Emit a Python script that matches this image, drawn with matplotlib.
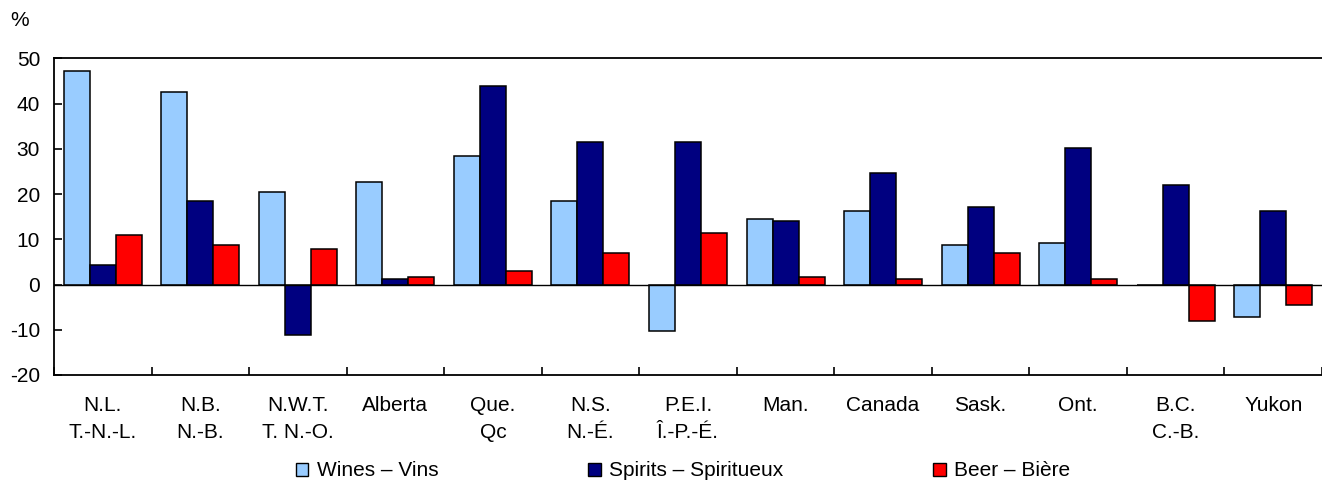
import matplotlib
matplotlib.use("Agg")
import matplotlib.pyplot as plt
import numpy as np
from matplotlib.patches import Patch

plt.rcParams['font.family'] = ['Liberation Sans', 'DejaVu Sans']

categories = ["N.L.\nT.-N.-L.", "N.B.\nN.-B.", "N.W.T.\nT. N.-O.", "Alberta", "Que.\nQc",
              "N.S.\nN.-É.", "P.E.I.\nÎ.-P.-É.", "Man.", "Canada", "Sask.", "Ont.",
              "B.C.\nC.-B.", "Yukon"]
wines = [47.3, 42.6, 20.5, 22.7, 28.5, 18.4, -10.2, 14.4, 16.2, 8.7, 9.2, 0.0, -7.2]
spirits = [4.3, 18.4, -11.1, 1.3, 43.9, 31.6, 31.6, 14.1, 24.6, 17.1, 30.2, 21.9, 16.2]
beer = [10.9, 8.7, 7.8, 1.7, 3.0, 6.9, 11.4, 1.7, 1.2, 6.9, 1.2, -8.1, -4.6]
series_names = ["Wines – Vins", "Spirits – Spiritueux", "Beer – Bière"]
colors = ["#99CCFF", "#000080", "#FF0000"]
yticks = [-20, -10, 0, 10, 20, 30, 40, 50]

fig = plt.figure(figsize=(13.22, 4.83), dpi=100)
ax = fig.add_axes([54/1322, 1-375/483, 1-54/1322, (375-58.3)/483])

x = np.arange(len(categories))
w = 0.8/3
for i, (vals, c) in enumerate(zip([wines, spirits, beer], colors)):
    ax.bar(x + (i-1)*w, vals, width=w, color=c, edgecolor='black', linewidth=1.1, zorder=3)

ax.axhline(0, color='black', linewidth=1.0, zorder=4)
ax.set_xlim(-0.5, len(categories)-0.5)
ax.set_ylim(-20, 50)
ax.set_yticks(yticks)
ax.set_yticklabels([str(v) for v in yticks])
ax.set_xticks(x)
ax.set_xticklabels(categories, fontsize=15, linespacing=1.55)
ax.set_xticks(np.arange(len(categories)+1)-0.5, minor=True)
ax.tick_params(axis='x', which='major', length=0, pad=15)
ax.tick_params(axis='x', which='minor', length=6, direction='in', width=1.2)
ax.tick_params(axis='y', which='major', length=6, direction='in', width=1.2, labelsize=15, pad=10)
for s in ax.spines.values():
    s.set_linewidth(1.3)
ax.spines['right'].set_visible(False)

fig.text(10/1322, 1-20/483, "%", fontsize=15, ha='left', va='center')

handles = [Patch(facecolor=c, edgecolor='black', linewidth=1.0) for c in colors]
fig.legend(handles, series_names, loc='center', bbox_to_anchor=(683/1322, 1-471/483),
           ncol=3, frameon=False, fontsize=15, handlelength=0.6, handleheight=0.6,
           handletextpad=0.4, columnspacing=7.2, borderpad=0)

fig.savefig("out.png", dpi=100)
